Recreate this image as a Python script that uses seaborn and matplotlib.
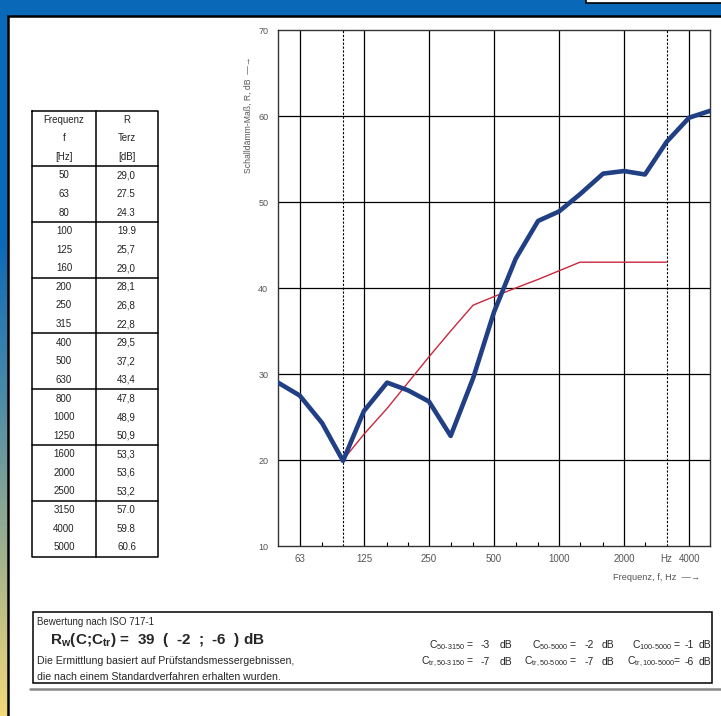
import numpy as np
import seaborn as sns
import matplotlib.pyplot as plt
from matplotlib.patches import Rectangle
from matplotlib.colors import LinearSegmentedColormap

# Messwerte (Terz)
freqs = [50, 63, 80, 100, 125, 160, 200, 250, 315, 400, 500, 630, 800,
         1000, 1250, 1600, 2000, 2500, 3150, 4000, 5000]
r_values = [29.0, 27.5, 24.3, 19.9, 25.7, 29.0, 28.1, 26.8, 22.8, 29.5, 37.2,
            43.4, 47.8, 48.9, 50.9, 53.3, 53.6, 53.2, 57.0, 59.8, 60.6]
r_labels = ["29,0", "27.5", "24.3", "19.9", "25,7", "29,0", "28,1", "26,8",
            "22,8", "29,5", "37,2", "43,4", "47,8", "48,9", "50,9", "53,3",
            "53,6", "53,2", "57.0", "59.8", "60.6"]

# verschobene Bezugskurve ISO 717-1
ref_freqs = [100, 125, 160, 200, 250, 315, 400, 500, 630, 800, 1000, 1250,
             1600, 2000, 2500, 3150]
ref_values = [20, 23, 26, 29, 32, 35, 38, 39, 40, 41, 42, 43, 43, 43, 43, 43]

x_major = [63, 125, 250, 500, 1000, 2000, 3150, 4000]
x_major_labels = ["63", "125", "250", "500", "1000", "2000", "Hz", "4000"]
x_minor = [80, 160, 200, 315, 400, 630, 800, 1250, 1600, 2500]
y_ticks = [10, 20, 30, 40, 50, 60, 70]

c_labels = [["C$_{\\mathrm{50\\text{-}3150}}$ =", "C$_{\\mathrm{50\\text{-}5000}}$ =", "C$_{\\mathrm{100\\text{-}5000}}$ ="],
            ["C$_{\\mathrm{tr,50\\text{-}3150}}$ =", "C$_{\\mathrm{tr,50\\text{-}5000}}$ =", "C$_{\\mathrm{tr,100\\text{-}5000}}$="]]
c_values = [["-3", "-2", "-1"], ["-7", "-7", "-6"]]

sns.set_style("white")
plt.rcParams['font.family'] = ['Liberation Sans', 'DejaVu Sans']
plt.rcParams['mathtext.fontset'] = 'custom'
plt.rcParams['mathtext.rm'] = 'Liberation Sans'
plt.rcParams['mathtext.bf'] = 'Liberation Sans:bold'

fig = plt.figure(figsize=(7.21, 7.16), dpi=100)

# Hintergrund in Pixelkoordinaten
bg = fig.add_axes([0, 0, 1, 1])
bg.axis("off")
blue = "#0a68b8"
cmap = LinearSegmentedColormap.from_list(
    "side", [(0, blue), (0.33, blue), (0.55, "#4a8aa8"), (0.78, "#a3b28c"), (1, "#f2d97a")])
bg.imshow(np.linspace(0, 1, 200).reshape(-1, 1), cmap=cmap, extent=(0, 9, 716, 0),
          aspect="auto", zorder=0)
bg.add_patch(Rectangle((0, 0), 721, 15, color=blue, zorder=1))
bg.add_patch(Rectangle((8, 16), 720, 710, facecolor="white", edgecolor="black", lw=1.8, zorder=2))
bg.add_patch(Rectangle((586, -5), 140, 8, facecolor="white", edgecolor="black", lw=1.2, zorder=3))
bg.set_xlim(0, 721)
bg.set_ylim(716, 0)

# Tabelle
tx0, tx1, tx2 = 32, 96, 158
ty_top, ty_head, row_h = 111, 166, 18.6
ty_bot = ty_head + row_h * len(freqs)
kw = dict(color="black", lw=1.1, zorder=4)
bg.plot([tx0, tx2, tx2, tx0, tx0], [ty_top, ty_top, ty_bot, ty_bot, ty_top], **kw)
bg.plot([tx1, tx1], [ty_top, ty_bot], **kw)
for k in range(7):
    yy = ty_head + 3 * row_h * k
    bg.plot([tx0, tx2], [yy, yy], **kw)
tfs = 7
for txt, yy in zip(["Frequenz", "f", "[Hz]"], [120, 138, 157]):
    bg.text(64, yy, txt, ha="center", va="center", fontsize=tfs, color="#222", zorder=5)
for txt, yy in zip(["R", "Terz", "[dB]"], [120, 138, 157]):
    bg.text(127, yy, txt, ha="center", va="center", fontsize=tfs, color="#222", zorder=5)
for i, (f, lab) in enumerate(zip(freqs, r_labels)):
    yy = ty_head + row_h * (i + 0.5)
    bg.text(64, yy, str(f), ha="center", va="center", fontsize=tfs, color="#222", zorder=5)
    bg.text(117, yy, lab, ha="left", va="center", fontsize=tfs, color="#222", zorder=5)

# Bewertungskasten
bg.add_patch(Rectangle((33, 612), 679, 71, facecolor="white", edgecolor="black", lw=1.1, zorder=4))
bg.plot([30, 721], [689, 689], color="#888", lw=1.8, zorder=4)
bg.text(37, 622, "Bewertung nach ISO 717-1", ha="left", va="center", fontsize=7, zorder=5)
bg.text(50, 640, "R$_{\\mathbf{w}}$(C;C$_{\\mathbf{tr}}$) =  39  (  -2  ;  -6  ) dB",
        ha="left", va="center", fontsize=11, fontweight="bold", zorder=5)
bg.text(37, 661, "Die Ermittlung basiert auf Prüfstandsmessergebnissen,",
        ha="left", va="center", fontsize=7.6, zorder=5)
bg.text(37, 677, "die nach einem Standardverfahren erhalten wurden.",
        ha="left", va="center", fontsize=7.6, zorder=5)
label_x = [474, 577, 681]
value_x = [485, 589, 689]
db_x = [506, 608, 705]
for r, yy in enumerate([645, 662]):
    for c in range(3):
        bg.text(label_x[c], yy, c_labels[r][c], ha="right", va="center", fontsize=7.5, zorder=5)
        bg.text(value_x[c], yy, c_values[r][c], ha="center", va="center", fontsize=7.5, zorder=5)
        bg.text(db_x[c], yy, "dB", ha="center", va="center", fontsize=7.5, zorder=5)

# Diagramm
ax = fig.add_axes([278 / 721, 1 - 546 / 716, 432 / 721, 516 / 716])
ax.set_xscale("log")
ax.set_xlim(50, 5000)
ax.set_ylim(10, 70)

for f in x_major:
    if f == 3150:
        continue
    ax.axvline(f, color="black", lw=0.9, zorder=1)
for f in [100, 3150]:
    ax.axvline(f, color="black", lw=0.8, ls=(0, (2, 1.5)), zorder=1)
for yv in y_ticks[1:-1]:
    ax.axhline(yv, color="black", lw=0.9, zorder=1)

sns.lineplot(x=ref_freqs, y=ref_values, color="#c8283c", lw=1.0, sort=False, ax=ax, zorder=3)
sns.lineplot(x=freqs, y=r_values, color="#213f85", lw=3.3, sort=False, ax=ax, zorder=4)

ax.set_xticks(x_major)
ax.set_xticklabels(x_major_labels)
ax.set_xticks(x_minor, minor=True)
ax.set_xticklabels([], minor=True)
ax.set_yticks(y_ticks)
ax.set_yticklabels([str(v) for v in y_ticks])
ax.tick_params(axis="x", which="major", length=0, pad=6, labelsize=7, labelcolor="#555")
ax.tick_params(axis="x", which="minor", bottom=True, direction="in", length=3, width=0.8, color="black")
ax.tick_params(axis="y", length=0, pad=7, labelsize=6.5, labelcolor="#555")
for s in ax.spines.values():
    s.set_color("#333")
    s.set_linewidth(1.0)
ax.set_xlabel("")
ax.set_ylabel("")

fig.text(700 / 721, 1 - 578 / 716, "Frequenz, f, Hz  \u2014\u2192", ha="right", va="center",
         fontsize=6.7, color="#555")
fig.text(248 / 721, 1 - 115 / 716, "Schalldämm-Maß, R, dB  \u2014\u2192", ha="center", va="center",
         rotation=90, fontsize=6.2, color="#555")

plt.savefig("out.png", dpi=100)
